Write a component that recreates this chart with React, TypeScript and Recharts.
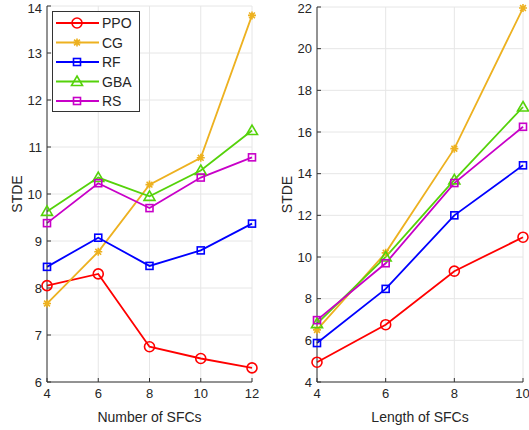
import { CartesianGrid, Line, LineChart, XAxis, YAxis } from "recharts"

const sfcCounts = [4, 6, 8, 10, 12]
const sfcLengths = [4, 6, 8, 10]

// left panel: STDE vs number of SFCs
const ppoByCount = [8.05, 8.3, 6.75, 6.5, 6.3]
const cgByCount = [7.67, 8.77, 10.2, 10.77, 13.8]
const rfByCount = [8.45, 9.07, 8.47, 8.8, 9.37]
const gbaByCount = [9.63, 10.35, 9.95, 10.5, 11.35]
const rsByCount = [9.38, 10.23, 9.7, 10.35, 10.78]

// right panel: STDE vs length of SFCs
const ppoByLength = [4.95, 6.75, 9.32, 10.95]
const cgByLength = [6.5, 10.2, 15.2, 21.95]
const rfByLength = [5.87, 8.47, 12.0, 14.4]
const gbaByLength = [6.8, 10.0, 13.7, 17.2]
const rsByLength = [6.97, 9.7, 13.55, 16.25]

const countTicks = [4, 6, 8, 10, 12]
const countYTicks = [6, 7, 8, 9, 10, 11, 12, 13, 14]
const lengthTicks = [4, 6, 8, 10]
const lengthYTicks = [4, 6, 8, 10, 12, 14, 16, 18, 20, 22]

type Shape = "circle" | "star" | "square" | "triangle"

const series: { key: string; name: string; color: string; shape: Shape }[] = [
  { key: "ppo", name: "PPO", color: "#ff0000", shape: "circle" },
  { key: "cg", name: "CG", color: "#edb120", shape: "star" },
  { key: "rf", name: "RF", color: "#0000ff", shape: "square" },
  { key: "gba", name: "GBA", color: "#55d20a", shape: "triangle" },
  { key: "rs", name: "RS", color: "#c800c8", shape: "square" },
]

const countData = sfcCounts.map((x, i) => ({
  x,
  ppo: ppoByCount[i],
  cg: cgByCount[i],
  rf: rfByCount[i],
  gba: gbaByCount[i],
  rs: rsByCount[i],
}))

const lengthData = sfcLengths.map((x, i) => ({
  x,
  ppo: ppoByLength[i],
  cg: cgByLength[i],
  rf: rfByLength[i],
  gba: gbaByLength[i],
  rs: rsByLength[i],
}))

const FONT = '"Liberation Sans", Arial, sans-serif'
const AXIS = "#333333"
const TEXT = "#262626"
const GRID = "#e6e6e6"

function Marker({ cx, cy, color, shape }: { cx?: number; cy?: number; color: string; shape: Shape }) {
  if (cx == null || cy == null) return null
  const sw = 1.6
  if (shape === "circle") {
    return <circle cx={cx} cy={cy} r={5} fill="none" stroke={color} strokeWidth={sw} />
  }
  if (shape === "square") {
    return <rect x={cx - 3.5} y={cy - 3.5} width={7} height={7} fill="none" stroke={color} strokeWidth={sw} />
  }
  if (shape === "triangle") {
    return (
      <path
        d={`M${cx},${cy - 5.5}L${cx + 5.5},${cy + 4}L${cx - 5.5},${cy + 4}Z`}
        fill="none"
        stroke={color}
        strokeWidth={sw}
      />
    )
  }
  const r = 4
  const d = 2.9
  return (
    <path
      d={`M${cx - r},${cy}L${cx + r},${cy}M${cx},${cy - r}L${cx},${cy + r}M${cx - d},${cy - d}L${cx + d},${cy + d}M${cx - d},${cy + d}L${cx + d},${cy - d}`}
      stroke={color}
      strokeWidth={sw}
    />
  )
}

const tickStyle = { fontSize: 13, fill: TEXT, fontFamily: FONT }

function Panel({
  data,
  xTicks,
  yTicks,
  xLabel,
  width,
  left,
  margin,
  yWidth,
  labelOffset,
}: {
  data: Record<string, number>[]
  xTicks: number[]
  yTicks: number[]
  xLabel: string
  width: number
  left: number
  margin: { top: number; right: number; bottom: number; left: number }
  yWidth: number
  labelOffset: number
}) {
  const xDomain = [xTicks[0], xTicks[xTicks.length - 1]]
  const yDomain = [yTicks[0], yTicks[yTicks.length - 1]]
  return (
    <div style={{ position: "absolute", left, top: 0 }}>
      <LineChart width={width} height={430} data={data} margin={margin}>
        <CartesianGrid stroke={GRID} strokeWidth={1} />
        <XAxis
          dataKey="x"
          type="number"
          domain={xDomain}
          ticks={xTicks}
          height={48}
          tickSize={-4}
          tickMargin={11}
          stroke={AXIS}
          tick={tickStyle}
          label={{ value: xLabel, position: "insideBottom", offset: 8, style: { fontSize: 14, fill: TEXT, fontFamily: FONT } }}
        />
        <XAxis
          xAxisId="top"
          orientation="top"
          dataKey="x"
          type="number"
          domain={xDomain}
          ticks={xTicks}
          height={0}
          tickSize={-4}
          tick={false}
          stroke={AXIS}
        />
        <YAxis
          type="number"
          domain={yDomain}
          ticks={yTicks}
          width={yWidth}
          tickSize={-4}
          tickMargin={9}
          stroke={AXIS}
          tick={tickStyle}
          label={{
            value: "STDE",
            angle: -90,
            position: "insideLeft",
            offset: labelOffset,
            style: { textAnchor: "middle", fontSize: 14, fill: TEXT, fontFamily: FONT },
          }}
        />
        <YAxis
          yAxisId="right"
          orientation="right"
          type="number"
          domain={yDomain}
          ticks={yTicks}
          width={0}
          tickSize={-4}
          tick={false}
          stroke={AXIS}
        />
        {series.map((s) => (
          <Line
            key={s.key}
            dataKey={s.key}
            name={s.name}
            stroke={s.color}
            strokeWidth={1.8}
            isAnimationActive={false}
            dot={(p: any) => <Marker key={`${s.key}-${p.index}`} cx={p.cx} cy={p.cy} color={s.color} shape={s.shape} />}
            activeDot={false}
          />
        ))}
      </LineChart>
    </div>
  )
}

function LegendBox() {
  return (
    <svg style={{ position: "absolute", left: 52, top: 11 }} width={88} height={101}>
      <rect x={0.5} y={0.5} width={87} height={100} fill="#fff" stroke={AXIS} strokeWidth={1} />
      {series.map((s, i) => {
        const y = 12 + i * 19.5
        return (
          <g key={s.key}>
            <line x1={4} x2={47} y1={y} y2={y} stroke={s.color} strokeWidth={1.8} />
            <Marker cx={25} cy={y} color={s.color} shape={s.shape} />
            <text x={50} y={y + 5} fontSize={14} fill={TEXT} fontFamily={FONT}>
              {s.name}
            </text>
          </g>
        )
      })}
    </svg>
  )
}

export default function App() {
  return (
    <div style={{ position: "fixed", left: 0, top: 0, width: 529, height: 430, background: "#fff" }}>
      <Panel
        data={countData}
        xTicks={countTicks}
        yTicks={countYTicks}
        xLabel="Number of SFCs"
        width={265}
        left={0}
        margin={{ top: 6, right: 13, bottom: 0, left: 0 }}
        yWidth={47}
        labelOffset={17}
      />
      <Panel
        data={lengthData}
        xTicks={lengthTicks}
        yTicks={lengthYTicks}
        xLabel="Length of SFCs"
        width={264}
        left={265}
        margin={{ top: 7, right: 6, bottom: 0, left: 0 }}
        yWidth={52}
        labelOffset={22}
      />
      <LegendBox />
    </div>
  )
}
